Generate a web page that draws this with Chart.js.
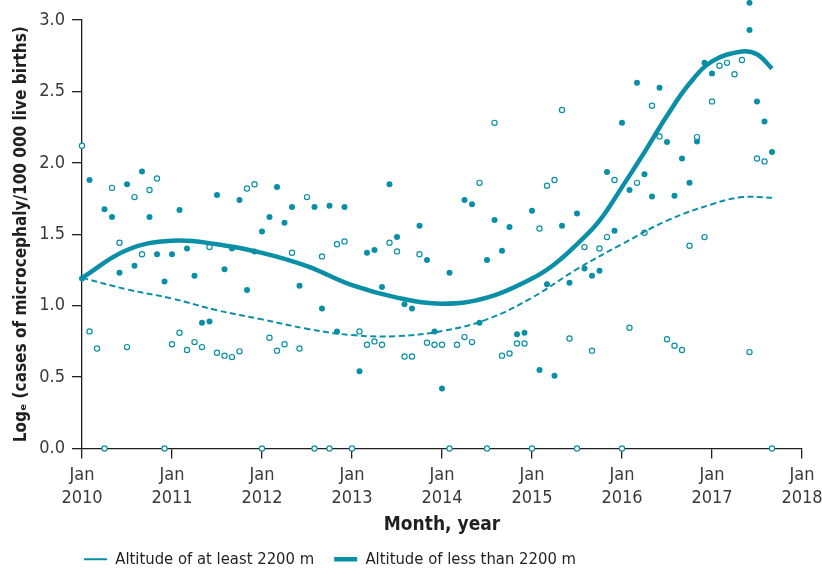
<!DOCTYPE html>
<html>
<head>
<meta charset="utf-8">
<script src="https://cdn.jsdelivr.net/npm/chart.js@4.4.1/dist/chart.umd.min.js"></script>
<style>
  html, body { margin: 0; padding: 0; background: #fff; }
  #wrap { width: 822px; height: 574px; position: relative; }
</style>
</head>
<body>
<div id="wrap"><canvas id="chart"></canvas></div>
<script>
  // monthly values from Jan 2010 (month 0) to Sep 2017 (month 92)
  // open circles: altitude of at least 2200 m
  const highAlt = [
    2.12, 0.82, 0.70, 0.00, 1.825, 1.44, 0.71, 1.76, 1.36, 1.81, 1.89, 0.00,
    0.73, 0.81, 0.69, 0.745, 0.71, 1.41, 0.67, 0.65, 0.64, 0.68, 1.82, 1.85,
    0.00, 0.775, 0.685, 0.73, 1.37, 0.70, 1.76, 0.00, 1.345, 0.00, 1.43, 1.45,
    0.00, 0.82, 0.726, 0.75, 0.726, 1.44, 1.38, 0.644, 0.644, 1.36, 0.74, 0.726,
    0.726, 0.00, 0.726, 0.78, 0.745, 1.86, 0.00, 2.28, 0.65, 0.665, 0.735, 0.735,
    0.00, 1.54, 1.84, 1.88, 2.37, 0.77, 0.00, 1.41, 0.685, 1.40, 1.48, 1.88,
    0.00, 0.845, 1.86, 1.51, 2.40, 2.185, 0.765, 0.72, 0.69, 1.42, 2.18, 1.48,
    2.43, 2.68, 2.70, 2.62, 2.72, 0.675, 2.03, 2.01, 0.00
  ];

  // filled circles: altitude of less than 2200 m (null = hidden under the curve)
  const lowAlt = [
    1.19, 1.88, null, 1.675, 1.62, 1.23, 1.85, 1.28, 1.94, 1.62, 1.36, 1.17,
    1.36, 1.67, 1.40, 1.21, 0.88, 0.89, 1.775, 1.255, 1.40, 1.74, 1.11, 1.38,
    1.52, 1.62, 1.83, 1.58, 1.69, 1.14, null, 1.69, 0.98, 1.70, 0.82, 1.69,
    null, 0.54, 1.37, 1.39, 1.13, 1.85, 1.48, 1.01, 0.98, 1.56, 1.32, 0.82,
    0.42, 1.23, null, 1.74, 1.71, 0.88, 1.32, 1.60, 1.385, 1.55, 0.80, 0.81,
    1.665, 0.55, 1.15, 0.51, 1.56, 1.16, 1.645, 1.26, 1.21, 1.245, 1.935, 1.525,
    2.28, 1.81, 2.56, 1.92, 1.765, 2.525, 2.145, 1.77, 2.03, 1.86, 2.15, 2.70,
    2.625, null, null, null, null, 3.12, 2.43, 2.29, 2.075
  ];
  // second reading in the same month
  const lowAltExtraMonths = [89];
  const lowAltExtraValues = [2.93];

  // fitted curves
  const highFitMonths = [0, 6, 12, 18, 24, 30, 36, 42, 48, 54, 60, 66, 72, 78, 84, 88, 92];
  const highFit = [1.195, 1.114, 1.05, 0.968, 0.904, 0.838, 0.794, 0.787, 0.822, 0.904, 1.056, 1.256, 1.431, 1.595, 1.71, 1.76, 1.755];

  const lowFitMonths = [0, 6, 12, 18, 24, 30, 36, 42, 48, 54, 60, 63, 66, 69, 72, 75, 78, 81, 84, 88, 90, 92];
  const lowFit = [1.195, 1.39, 1.455, 1.43, 1.37, 1.277, 1.143, 1.056, 1.014, 1.056, 1.19, 1.29, 1.43, 1.595, 1.83, 2.075, 2.33, 2.555, 2.71, 2.78, 2.76, 2.66];

  const xTickLabels = [
    ['Jan', '2010'], ['Jan', '2011'], ['Jan', '2012'], ['Jan', '2013'], ['Jan', '2014'],
    ['Jan', '2015'], ['Jan', '2016'], ['Jan', '2017'], ['Jan', '2018']
  ];

  const teal = '#0a8fa6';
  const ink = '#231f20';
  const fam = "'Liberation Sans Narrow', 'DejaVu Sans Condensed', 'Liberation Sans', sans-serif";

  const toPoints = (xs, ys) => xs.map((x, i) => ({ x: x, y: ys[i] }));
  const byMonth = ys => ys.map((y, i) => ({ x: i, y: y }));

  // legend lined up with the y axis; let points above 3.0 still be drawn
  const layoutTweaks = {
    id: 'layoutTweaks',
    afterLayout(chart) {
      chart.legend.left = 64;
      chart.legend.top = 531;
      chart.chartArea.top = 0;
    }
  };

  const config = {
    data: {
      datasets: [
        {
          type: 'line',
          label: 'Altitude of at least 2200 m',
          data: toPoints(highFitMonths, highFit),
          borderColor: teal,
          backgroundColor: teal,
          borderWidth: 2,
          borderDash: [6, 3.5],
          pointRadius: 0,
          tension: 0.4,
          fill: false,
        },
        {
          type: 'line',
          label: 'Altitude of less than 2200 m',
          data: toPoints(lowFitMonths, lowFit),
          borderColor: teal,
          backgroundColor: teal,
          borderWidth: 4.5,
          pointRadius: 0,
          tension: 0.4,
          fill: false,
        },
        {
          type: 'scatter',
          label: 'high',
          data: byMonth(highAlt),
          pointRadius: 2.6,
          borderWidth: 1.2,
          borderColor: teal,
          backgroundColor: '#ffffff',
          clip: false,
        },
        {
          type: 'scatter',
          label: 'low',
          data: byMonth(lowAlt).concat(toPoints(lowAltExtraMonths, lowAltExtraValues)),
          pointRadius: 3,
          borderWidth: 0,
          borderColor: teal,
          backgroundColor: teal,
          clip: false,
        },
      ],
    },
    options: {
      responsive: true,
      maintainAspectRatio: false,
      animation: false,
      layout: { padding: { top: 20, right: 20, left: 0, bottom: 0 } },
      plugins: {
        tooltip: { enabled: false },
        legend: {
          position: 'bottom',
          align: 'start',
          labels: {
            filter: item => item.datasetIndex < 2,
            usePointStyle: true,
            pointStyle: 'line',
            pointStyleWidth: 23,
            padding: 20,
            color: ink,
            font: { family: fam, size: 16.5 },
          },
        },
      },
      scales: {
        x: {
          type: 'linear',
          min: 0,
          max: 96,
          afterFit: s => { s.height = 79; s.paddingLeft = 0; s.paddingRight = 0; },
          ticks: {
            stepSize: 12,
            autoSkip: false,
            maxRotation: 0,
            padding: 5,
            color: '#3a3a3a',
            font: { family: fam, size: 18, lineHeight: 1.28 },
            callback: v => xTickLabels[v / 12],
          },
          grid: { drawOnChartArea: false, tickLength: 10, color: ink, lineWidth: 1.3 },
          border: { display: true, color: ink, width: 1.3 },
          title: {
            display: true,
            text: 'Month, year',
            color: ink,
            font: { family: fam, size: 19, weight: 'bold' },
            padding: { top: 0, bottom: -9 },
          },
        },
        y: {
          min: 0,
          max: 3,
          afterFit: s => { s.width = 82; },
          ticks: {
            stepSize: 0.5,
            padding: 7,
            color: '#3a3a3a',
            font: { family: fam, size: 18 },
            callback: v => v.toFixed(1),
          },
          grid: { drawOnChartArea: false, tickLength: 10, color: ink, lineWidth: 1.3 },
          border: { display: true, color: ink, width: 1.3 },
          title: {
            display: true,
            text: 'Log\u2091 (cases of microcephaly/100 000 live births)',
            color: ink,
            font: { family: fam, size: 17, weight: 'bold' },
            padding: { top: 11, bottom: 0 },
          },
        },
      },
    },
    plugins: [layoutTweaks],
  };

  const ctx = document.getElementById('chart');
  window.myChart = new Chart(ctx, config);
</script>
</body>
</html>
